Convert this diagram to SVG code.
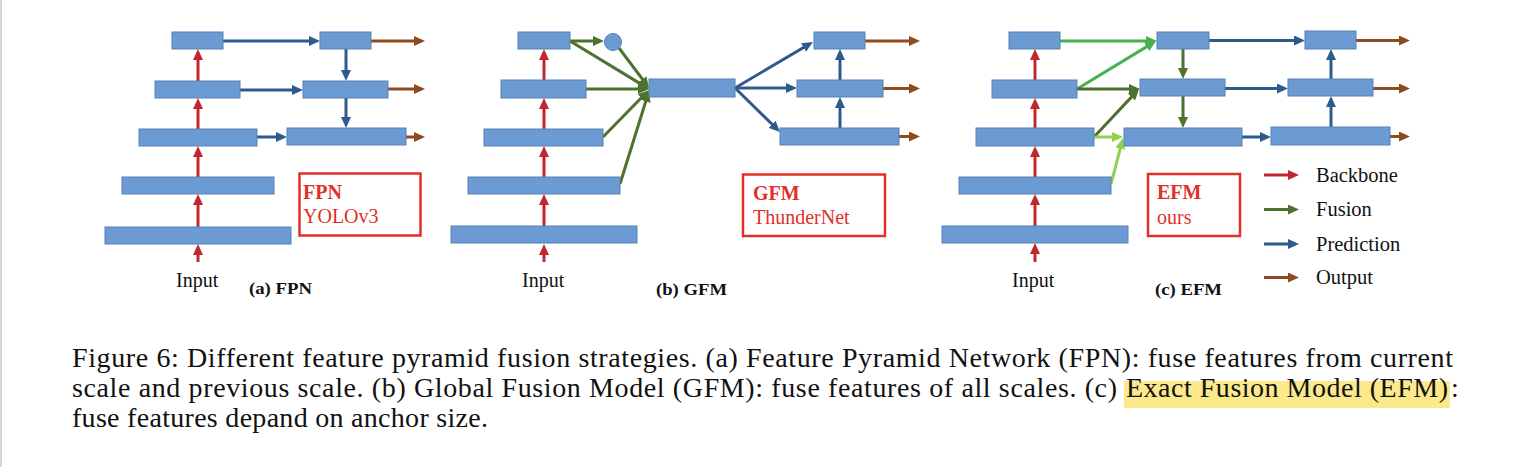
<svg xmlns="http://www.w3.org/2000/svg" width="1517" height="467" viewBox="0 0 1517 467">
<style>
.box{fill:#6b9bd2;stroke:#5580b5;stroke-width:1}
.t{font-family:"Liberation Serif","Times New Roman",serif;fill:#111}
.lbl{font-size:20px}
.sub{font-size:16px;font-weight:bold}
.rt{font-family:"Liberation Serif","Times New Roman",serif;fill:#e0302a;font-size:20px}
.tag{fill:#fff;stroke:#e0302a;stroke-width:2.5}
.cap{font-size:28px}
.red{stroke:#c0282d;stroke-width:3;fill:none;marker-end:url(#mRed)}
.dg{stroke:#4e7130;stroke-width:3;fill:none;marker-end:url(#mDg)}
.mg{stroke:#47b04f;stroke-width:3;fill:none;marker-end:url(#mMg)}
.lg{stroke:#92d050;stroke-width:3;fill:none;marker-end:url(#mLg)}
.bl{stroke:#2e5a8e;stroke-width:3;fill:none;marker-end:url(#mBl)}
.br{stroke:#8e4b1f;stroke-width:3;fill:none;marker-end:url(#mBr)}
</style>
<defs>
<marker id="mRed" viewBox="0 0 11 10" markerWidth="11" markerHeight="10" markerUnits="userSpaceOnUse" refX="5" refY="5" orient="auto"><path d="M0,0 L11,5 L0,10 z" fill="#c0282d"/></marker>
<marker id="mDg" viewBox="0 0 11 10" markerWidth="11" markerHeight="10" markerUnits="userSpaceOnUse" refX="5" refY="5" orient="auto"><path d="M0,0 L11,5 L0,10 z" fill="#4e7130"/></marker>
<marker id="mMg" viewBox="0 0 11 10" markerWidth="11" markerHeight="10" markerUnits="userSpaceOnUse" refX="5" refY="5" orient="auto"><path d="M0,0 L11,5 L0,10 z" fill="#47b04f"/></marker>
<marker id="mLg" viewBox="0 0 11 10" markerWidth="11" markerHeight="10" markerUnits="userSpaceOnUse" refX="5" refY="5" orient="auto"><path d="M0,0 L11,5 L0,10 z" fill="#92d050"/></marker>
<marker id="mBl" viewBox="0 0 11 10" markerWidth="11" markerHeight="10" markerUnits="userSpaceOnUse" refX="5" refY="5" orient="auto"><path d="M0,0 L11,5 L0,10 z" fill="#2e5a8e"/></marker>
<marker id="mBr" viewBox="0 0 11 10" markerWidth="11" markerHeight="10" markerUnits="userSpaceOnUse" refX="5" refY="5" orient="auto"><path d="M0,0 L11,5 L0,10 z" fill="#8e4b1f"/></marker>
</defs>
<rect x="0" y="0" width="1517" height="467" fill="#fff"/>
<line x1="1" y1="0" x2="1" y2="467" stroke="#c8c8c8" stroke-width="1.5"/>

<g id="connectors">
<!-- panel a -->
<line class="red" x1="198" y1="262" x2="198" y2="250"/>
<line class="red" x1="198" y1="227" x2="198" y2="200"/>
<line class="red" x1="198" y1="177" x2="198" y2="152"/>
<line class="red" x1="198" y1="129" x2="198" y2="104"/>
<line class="red" x1="198" y1="81" x2="198" y2="55"/>
<line class="bl" x1="223" y1="41" x2="314" y2="41"/>
<line class="bl" x1="240" y1="90" x2="297" y2="90"/>
<line class="bl" x1="257" y1="137" x2="281" y2="137"/>
<line class="bl" x1="346" y1="49" x2="346" y2="75"/>
<line class="bl" x1="346" y1="98" x2="346" y2="122"/>
<line class="br" x1="371" y1="41" x2="419" y2="41"/>
<line class="br" x1="388" y1="89" x2="419" y2="89"/>
<line class="br" x1="406" y1="137" x2="419" y2="137"/>
<!-- panel b -->
<line class="red" x1="544" y1="262" x2="544" y2="250"/>
<line class="red" x1="544" y1="226" x2="544" y2="200"/>
<line class="red" x1="544" y1="177" x2="544" y2="152"/>
<line class="red" x1="544" y1="129" x2="544" y2="104"/>
<line class="red" x1="544" y1="80" x2="544" y2="55"/>
<line class="dg" x1="570" y1="41" x2="598" y2="41"/>
<line class="dg" x1="570" y1="41" x2="643.9" y2="85.9"/>
<line class="dg" x1="619" y1="48" x2="645.4" y2="83.2"/>
<line class="dg" x1="586" y1="89" x2="643" y2="89"/>
<line class="dg" x1="603" y1="137" x2="644.8" y2="94.3"/>
<line class="dg" x1="620" y1="184" x2="647.2" y2="96.7"/>
<line class="bl" x1="735" y1="88" x2="807.8" y2="45"/>
<line class="bl" x1="735" y1="88" x2="791" y2="88"/>
<line class="bl" x1="735" y1="88" x2="775.7" y2="127.8"/>
<line class="bl" x1="840" y1="128" x2="840" y2="103"/>
<line class="bl" x1="840" y1="80" x2="840" y2="55"/>
<line class="br" x1="865" y1="41" x2="914" y2="41"/>
<line class="br" x1="883" y1="88.5" x2="914" y2="88.5"/>
<line class="br" x1="899" y1="136.5" x2="914" y2="136.5"/>
<!-- panel c -->
<line class="red" x1="1035" y1="262" x2="1035" y2="249"/>
<line class="red" x1="1035" y1="226" x2="1035" y2="200"/>
<line class="red" x1="1035" y1="177" x2="1035" y2="152"/>
<line class="red" x1="1035" y1="128" x2="1035" y2="104"/>
<line class="red" x1="1035" y1="80" x2="1035" y2="55"/>
<line class="mg" x1="1060" y1="41" x2="1151" y2="41"/>
<line class="mg" x1="1077" y1="89" x2="1150.9" y2="44.1"/>
<line class="dg" x1="1077" y1="89" x2="1134" y2="89"/>
<line class="dg" x1="1094" y1="137" x2="1134.9" y2="93.4"/>
<line class="lg" x1="1094" y1="137" x2="1117" y2="137"/>
<line class="lg" x1="1111" y1="184" x2="1121.5" y2="143.8"/>
<line class="dg" x1="1183" y1="49" x2="1183" y2="73"/>
<line class="dg" x1="1183" y1="96" x2="1183" y2="122"/>
<line class="bl" x1="1209" y1="40.5" x2="1299" y2="40.5"/>
<line class="bl" x1="1225" y1="88.5" x2="1282" y2="88.5"/>
<line class="bl" x1="1242" y1="137" x2="1265" y2="137"/>
<line class="bl" x1="1331" y1="127" x2="1331" y2="102"/>
<line class="bl" x1="1331" y1="79" x2="1331" y2="55"/>
<line class="br" x1="1356" y1="40.5" x2="1404" y2="40.5"/>
<line class="br" x1="1373" y1="88.5" x2="1404" y2="88.5"/>
<line class="br" x1="1390" y1="136.5" x2="1404" y2="136.5"/>
</g>

<g id="panel-a">
<g id="a-L1"><rect class="box" x="172" y="32" width="51" height="17"/></g>
<g id="a-L2"><rect class="box" x="155" y="81" width="85" height="17"/></g>
<g id="a-L3"><rect class="box" x="139" y="129" width="118" height="17"/></g>
<g id="a-L4"><rect class="box" x="122" y="177" width="152" height="17"/></g>
<g id="a-L5"><rect class="box" x="105" y="227" width="186" height="17"/></g>
<g id="a-R1"><rect class="box" x="320" y="32" width="51" height="17"/></g>
<g id="a-R2"><rect class="box" x="303" y="81" width="85" height="17"/></g>
<g id="a-R3"><rect class="box" x="287" y="128" width="119" height="17"/></g>
<g id="a-tag"><rect class="tag" x="299.5" y="173.5" width="121" height="62"/>
<text class="rt" x="303" y="199" font-weight="bold">FPN</text>
<text class="rt" x="303" y="223">YOLOv3</text></g>
<g id="a-input"><text class="t lbl" x="176" y="287">Input</text></g>
<g id="a-title"><text class="t sub" x="249" y="294" textLength="63" lengthAdjust="spacingAndGlyphs">(a) FPN</text></g>
</g>

<g id="panel-b">
<g id="b-L1"><rect class="box" x="518" y="32" width="52" height="17"/></g>
<g id="b-L2"><rect class="box" x="501" y="80" width="85" height="18"/></g>
<g id="b-L3"><rect class="box" x="484" y="129" width="119" height="17"/></g>
<g id="b-L4"><rect class="box" x="468" y="177" width="152" height="17"/></g>
<g id="b-L5"><rect class="box" x="451" y="226" width="186" height="17"/></g>
<g id="b-circle"><circle class="box" cx="613" cy="42" r="8.5"/></g>
<g id="b-center"><rect class="box" x="649" y="79" width="86" height="18"/></g>
<g id="b-R1"><rect class="box" x="814" y="32" width="51" height="17"/></g>
<g id="b-R2"><rect class="box" x="797" y="80" width="86" height="17"/></g>
<g id="b-R3"><rect class="box" x="780" y="128" width="119" height="17"/></g>
<g id="b-tag"><rect class="tag" x="743" y="174.5" width="142" height="61.5"/>
<text class="rt" x="753" y="200" font-weight="bold">GFM</text>
<text class="rt" x="753" y="224">ThunderNet</text></g>
<g id="b-input"><text class="t lbl" x="522" y="287">Input</text></g>
<g id="b-title"><text class="t sub" x="656" y="295" textLength="71" lengthAdjust="spacingAndGlyphs">(b) GFM</text></g>
</g>

<g id="panel-c">
<g id="c-L1"><rect class="box" x="1009" y="32" width="51" height="17"/></g>
<g id="c-L2"><rect class="box" x="992" y="80" width="85" height="18"/></g>
<g id="c-L3"><rect class="box" x="976" y="128" width="118" height="18"/></g>
<g id="c-L4"><rect class="box" x="959" y="177" width="152" height="17"/></g>
<g id="c-L5"><rect class="box" x="942" y="226" width="186" height="17"/></g>
<g id="c-M1"><rect class="box" x="1157" y="32" width="52" height="17"/></g>
<g id="c-M2"><rect class="box" x="1140" y="79" width="85" height="17"/></g>
<g id="c-M3"><rect class="box" x="1124" y="128" width="118" height="18"/></g>
<g id="c-R1"><rect class="box" x="1305" y="31" width="51" height="18"/></g>
<g id="c-R2"><rect class="box" x="1288" y="79" width="85" height="17"/></g>
<g id="c-R3"><rect class="box" x="1271" y="127" width="119" height="18"/></g>
<g id="c-tag"><rect class="tag" x="1148" y="174" width="92" height="62"/>
<text class="rt" x="1157" y="199" font-weight="bold">EFM</text>
<text class="rt" x="1157" y="224">ours</text></g>
<g id="c-input"><text class="t lbl" x="1012" y="287">Input</text></g>
<g id="c-title"><text class="t sub" x="1155" y="295" textLength="67" lengthAdjust="spacingAndGlyphs">(c) EFM</text></g>
</g>

<g id="legend">
<line x1="1264" y1="175" x2="1293" y2="175" stroke="#c0282d" stroke-width="3" marker-end="url(#mRed)"/>
<line x1="1264" y1="209.5" x2="1293" y2="209.5" stroke="#4e7130" stroke-width="3" marker-end="url(#mDg)"/>
<line x1="1264" y1="244" x2="1293" y2="244" stroke="#2e5a8e" stroke-width="3" marker-end="url(#mBl)"/>
<line x1="1264" y1="277.5" x2="1293" y2="277.5" stroke="#8e4b1f" stroke-width="3" marker-end="url(#mBr)"/>
<text class="t" font-size="20.5" x="1316" y="182">Backbone</text>
<text class="t" font-size="20.5" x="1316" y="215.5">Fusion</text>
<text class="t" font-size="20.5" x="1316" y="250.5">Prediction</text>
<text class="t" font-size="20.5" x="1316" y="284">Output</text>
</g>

<g id="caption">
<rect x="1124" y="381" width="326" height="27" fill="#fbe98c"/>
<text class="t cap" x="72" y="367" textLength="1381" lengthAdjust="spacing">Figure 6: Different feature pyramid fusion strategies. (a) Feature Pyramid Network (FPN): fuse features from current</text>
<text class="t cap" x="72" y="397" textLength="1045" lengthAdjust="spacing">scale and previous scale. (b) Global Fusion Model (GFM): fuse features of all scales. (c)</text>
<text class="t cap" x="1126" y="397" textLength="322" lengthAdjust="spacing">Exact Fusion Model (EFM)</text>
<text class="t cap" x="1451" y="397">:</text>
<text class="t cap" x="72" y="427" textLength="416" lengthAdjust="spacing">fuse features depand on anchor size.</text>
</g>
</svg>
